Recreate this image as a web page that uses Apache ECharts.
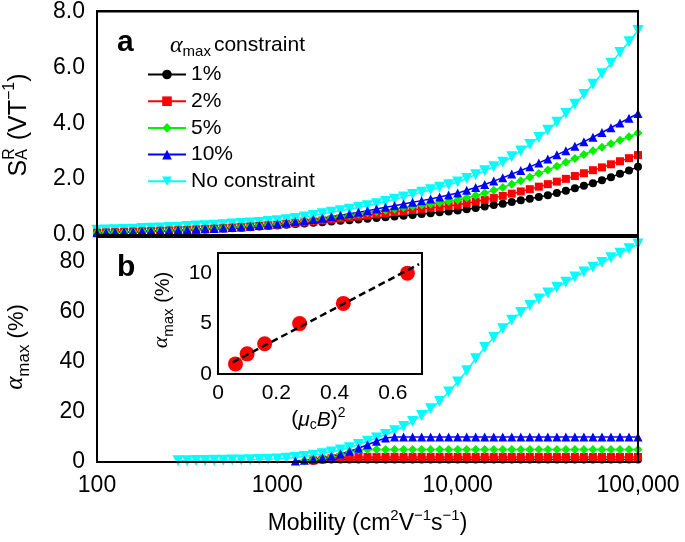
<!DOCTYPE html>
<html><head><meta charset="utf-8">
<script src="https://cdn.jsdelivr.net/npm/echarts/dist/echarts.min.js"></script>
<style>html,body{margin:0;padding:0;background:#fff}
#wrap{position:relative;width:685px;height:542px;background:#fff}
#c,#ov{position:absolute;left:0;top:0;width:685px;height:542px}
#c{z-index:1}#ov{z-index:2;pointer-events:none}
#err{position:absolute;left:2px;bottom:0;z-index:3;font:8px sans-serif;color:#aaa;max-width:680px;white-space:nowrap;overflow:hidden}</style>
</head><body><div id="wrap"><div id="c"></div><div id="ov"></div><div id="err"></div></div>
<script>
// ---------------- data ----------------
const mobility = [100,112.2,125.9,141.3,158.5,177.8,199.5,223.9,251.2,281.8,
316.2,354.8,398.1,446.7,501.2,562.3,631,707.9,794.3,891.3,
1000,1122,1259,1413,1585,1778,1995,2239,2512,2818,
3162,3548,3981,4467,5012,5623,6310,7079,7943,8913,
10000,11220,12589,14125,15849,17783,19953,22387,25119,28184,
31623,35481,39811,44668,50119,56234,63096,70795,79433,89125,
100000];

// panel a: S_A^R (V/T)
const saBlack = [0.07,0.08,0.09,0.10,0.11,0.12,0.13,0.14,0.15,0.16,
0.17,0.185,0.20,0.215,0.23,0.245,0.26,0.28,0.30,0.32,
0.34,0.365,0.39,0.41,0.435,0.46,0.485,0.51,0.53,0.555,
0.58,0.605,0.635,0.66,0.69,0.72,0.75,0.78,0.81,0.845,
0.88,0.925,0.97,1.02,1.07,1.12,1.18,1.24,1.30,1.36,
1.42,1.50,1.58,1.67,1.76,1.85,1.96,2.07,2.19,2.31,
2.44];
const saRed = [0.08,0.09,0.10,0.11,0.12,0.13,0.14,0.15,0.16,0.17,
0.18,0.195,0.21,0.225,0.24,0.26,0.28,0.30,0.32,0.34,
0.36,0.39,0.42,0.45,0.485,0.52,0.555,0.59,0.625,0.66,
0.70,0.74,0.78,0.82,0.86,0.90,0.935,0.97,1.005,1.04,
1.08,1.14,1.20,1.26,1.33,1.40,1.48,1.56,1.64,1.73,
1.82,1.91,2.01,2.11,2.21,2.32,2.42,2.53,2.64,2.75,
2.86];
const saGreen = [0.08,0.09,0.10,0.11,0.12,0.13,0.14,0.15,0.16,0.175,
0.19,0.205,0.22,0.235,0.25,0.27,0.29,0.31,0.33,0.355,
0.38,0.415,0.45,0.49,0.53,0.57,0.615,0.66,0.705,0.75,
0.80,0.845,0.89,0.935,0.98,1.03,1.07,1.11,1.155,1.20,
1.25,1.33,1.41,1.50,1.60,1.70,1.82,1.94,2.07,2.20,
2.33,2.46,2.60,2.74,2.88,3.02,3.14,3.27,3.39,3.52,
3.65];
const saBlue = [0.08,0.09,0.10,0.11,0.12,0.13,0.14,0.15,0.16,0.175,
0.19,0.205,0.22,0.235,0.25,0.27,0.29,0.31,0.34,0.365,
0.39,0.43,0.47,0.51,0.555,0.60,0.65,0.705,0.76,0.815,
0.87,0.93,0.99,1.05,1.11,1.17,1.23,1.29,1.36,1.43,
1.50,1.60,1.70,1.81,1.93,2.05,2.18,2.31,2.44,2.58,
2.72,2.87,3.02,3.18,3.34,3.50,3.67,3.84,4.01,4.18,
4.35];
const saCyan = [0.17,0.18,0.19,0.20,0.21,0.23,0.24,0.25,0.27,0.28,
0.30,0.32,0.33,0.35,0.37,0.39,0.41,0.43,0.45,0.48,
0.51,0.55,0.59,0.64,0.70,0.76,0.81,0.87,0.92,0.99,
1.05,1.12,1.20,1.28,1.36,1.45,1.53,1.62,1.71,1.80,
1.90,2.02,2.16,2.30,2.44,2.60,2.80,3.01,3.24,3.49,
3.75,4.04,4.35,4.68,5.03,5.40,5.77,6.15,6.53,6.92,
7.32];

// panel b: alpha_max (%)
const amBlack = [null,null,null,null,null,null,null,null,null,null,
null,null,null,null,null,null,null,null,null,null,
null,null,null,null,0.5,0.9,1,1,1,1,
1,1,1,1,1,1,1,1,1,1,
1,1,1,1,1,1,1,1,1,1,
1,1,1,1,1,1,1,1,1,1,
1];
const amRed = [null,null,null,null,null,null,null,null,null,null,
null,null,null,null,null,null,null,null,null,null,
null,null,null,null,0.6,1.0,1.5,2,2,2,
2,2,2,2,2,2,2,2,2,2,
2,2,2,2,2,2,2,2,2,2,
2,2,2,2,2,2,2,2,2,2,
2];
const amGreen = [null,null,null,null,null,null,null,null,null,null,
null,null,null,null,null,null,null,null,null,null,
null,null,null,0.5,0.9,1.4,2.1,3.0,4.0,4.8,
5,5,5,5,5,5,5,5,5,5,
5,5,5,5,5,5,5,5,5,5,
5,5,5,5,5,5,5,5,5,5,
5];
const amBlue = [null,null,null,null,null,null,null,null,null,null,
null,null,null,null,null,null,null,null,null,null,
null,null,0.4,0.7,1.1,1.6,2.3,3.2,4.3,5.5,
6.9,8.3,9.6,10,10,10,10,10,10,10,
10,10,10,10,10,10,10,10,10,10,
10,10,10,10,10,10,10,10,10,10,
10];
const amCyan = [null,null,null,null,null,null,null,null,null,0.5,
0.55,0.6,0.65,0.7,0.75,0.8,0.85,0.9,1.0,1.1,
1.25,1.5,1.8,2.2,2.7,3.3,4.0,4.8,5.7,7.0,
8.3,9.6,11.0,12.5,14.2,16.2,18.6,21.3,24.2,28,
32,36.5,41.3,45.8,49.8,53.3,56.7,59.8,62.6,65.2,
67.6,69.8,71.9,74.0,76.0,77.9,79.8,81.7,83.5,85.3,
87.2];

// inset
const insetX = [0.06, 0.10, 0.16, 0.28, 0.43, 0.65];
const insetY = [1, 2, 3, 5, 7, 10];
const fitX = [0.05, 0.69];
const fitY = [1.15, 10.9];

const seriesNames = ['1%', '2%', '5%', '10%', 'No constraint'];
const xTickLabels = ['100', '1000', '10,000', '100,000'];
const xMajorTicks = [100, 1000, 10000, 100000];
const xMinorTicks = [200,300,400,500,600,700,800,900,2000,3000,4000,5000,6000,7000,8000,9000,20000,30000,40000,50000,60000,70000,80000,90000];
const topYLabels = ['0.0', '2.0', '4.0', '6.0', '8.0'];
const topYMajor = [0, 2, 4, 6, 8];
const botYLabels = ['0', '20', '40', '60', '80'];
const botYMajor = [0, 20, 40, 60, 80];
const insetXLabels = ['0', '0.2', '0.4', '0.6'];
const insetYLabels = ['0', '5', '10'];

// ---------------- layout ----------------
const GRIDS = [
  {left: 97, top: 11, width: 541, height: 224},
  {left: 97, top: 237, width: 541, height: 225},
  {left: 218, top: 253, width: 204, height: 121}
];
const FONT = '"Liberation Sans", Arial, Helvetica, sans-serif';
const SERIF = '"Liberation Serif", "Times New Roman", serif';
const errs = [];
function report(tag, e) {
  errs.push(tag + ': ' + (e && e.message ? e.message : String(e)));
  document.getElementById('err').textContent = errs.join(' | ');
}
window.addEventListener('error', ev => report('win', ev.error || ev.message));

// ---------------- overlay chart (created first): inward tick marks on the same scales ----------------
function oyv(g, pos, max, interval, len, minor) {
  return {type: 'value', gridIndex: g, position: pos, min: 0, max, interval,
    axisLine: {show: true, onZero: false, lineStyle: {color: '#000', width: 2}}, splitLine: {show: false},
    axisTick: {show: true, inside: true, length: len, lineStyle: {color: '#000', width: 1.5}},
    axisLabel: {show: false},
    minorTick: {show: !!minor, splitNumber: minor || 5, length: 7, lineStyle: {color: '#000', width: 1.5}}};
}
function oxl(g, pos, custom, len) {
  return {type: 'log', logBase: 10, gridIndex: g, position: pos, min: 100, max: 100000,
    axisLine: {show: true, onZero: false, lineStyle: {color: '#000', width: 2}}, splitLine: {show: false},
    axisTick: {show: true, inside: true, length: len, lineStyle: {color: '#000', width: 1.5}, customValues: custom},
    axisLabel: {show: false}};
}
try {
  const ov = echarts.init(document.getElementById('ov'));
  ov.setOption({
    animation: false,
    grid: GRIDS.map(g => Object.assign({}, g)),
    xAxis: [
      oxl(0, 'bottom', undefined, 13), oxl(0, 'bottom', xMinorTicks, 7), oxl(0, 'top', undefined, 13), oxl(0, 'top', xMinorTicks, 7),
      oxl(1, 'bottom', undefined, 13), oxl(1, 'bottom', xMinorTicks, 7), oxl(1, 'top', undefined, 13), oxl(1, 'top', xMinorTicks, 7),
      {type: 'value', gridIndex: 2, position: 'bottom', min: 0, max: 0.7, interval: 0.2,
        axisLine: {show: true, onZero: false, lineStyle: {color: '#000', width: 2}}, splitLine: {show: false},
        axisTick: {show: true, inside: true, length: 9, lineStyle: {color: '#000', width: 1.5}}, axisLabel: {show: false}}
    ],
    yAxis: [
      oyv(0, 'left', 8, 2, 13, 4), oyv(0, 'right', 8, 2, 13, 4),
      oyv(1, 'left', 90, 20, 13), oyv(1, 'left', 90, 5, 7), oyv(1, 'right', 90, 20, 13), oyv(1, 'right', 90, 5, 7),
      {type: 'value', gridIndex: 2, position: 'left', min: 0, max: 12, interval: 5,
        axisLine: {show: true, onZero: false, lineStyle: {color: '#000', width: 2}}, splitLine: {show: false},
        axisTick: {show: true, inside: true, length: 9, lineStyle: {color: '#000', width: 1.5}}, axisLabel: {show: false}}
    ],
    series: [
      {type: 'line', xAxisIndex: 0, yAxisIndex: 0, data: [[100, 0], [100000, 0]], symbol: 'none', lineStyle: {opacity: 0}},
      {type: 'line', xAxisIndex: 4, yAxisIndex: 2, data: [[100, 0], [100000, 0]], symbol: 'none', lineStyle: {opacity: 0}},
      {type: 'line', xAxisIndex: 8, yAxisIndex: 6, data: [[0, 0], [0.7, 0]], symbol: 'none', lineStyle: {opacity: 0}}
    ]
  });
} catch (e) { report('ov', e); }

// ---------------- main chart: data, labels, legend ----------------
const styles = {
  '1%': {color: '#000000', symbol: 'circle', size: 8, rotate: 0},
  '2%': {color: '#ff0000', symbol: 'rect', size: 8, rotate: 0},
  '5%': {color: '#00f000', symbol: 'diamond', size: 9, rotate: 0},
  '10%': {color: '#0000ff', symbol: 'triangle', size: 9, rotate: 0},
  'No constraint': {color: '#00ffff', symbol: 'triangle', size: 11, rotate: 180}
};
function mk(name, vals, ax) {
  const s = styles[name];
  return {
    type: 'line', name, xAxisIndex: ax, yAxisIndex: ax,
    data: mobility.map((m, i) => [m, vals[i]]),
    symbol: s.symbol, symbolSize: s.size, symbolRotate: s.rotate,
    showSymbol: true, connectNulls: false,
    itemStyle: {color: s.color}, lineStyle: {color: s.color, width: 1.5},
    animation: false
  };
}

// text layout helper for titles with sub/superscripts
const mctx = document.createElement('canvas').getContext('2d');
function runText(pieces, cx, cy, rot, anchor) {
  let x = 0; const ch = [];
  for (const p of pieces) {
    const fam = p.f || FONT;
    const st = p.it ? 'italic' : 'normal';
    const wt = p.b ? 'bold' : 'normal';
    ch.push({type: 'text', x: x + (p.dx || 0), y: p.dy || 0,
      style: {text: p.t, fontSize: p.s, fontFamily: fam, fontStyle: st, fontWeight: wt,
        fill: '#000', align: 'left', verticalAlign: 'middle'}});
    mctx.font = st + ' ' + wt + ' ' + p.s + 'px ' + fam;
    const w = mctx.measureText(p.t).width;
    if (!p.stack) x += w + (p.gap || 0);
  }
  const off = anchor === 'left' ? 0 : -x / 2;
  ch.forEach(c => { c.x += off; });
  return {type: 'group', x: cx, y: cy, rotation: rot || 0, silent: true, children: ch};
}

const graphics = [
  runText([{t: 'a', s: 30, b: true}], 117, 43, 0, 'left'),
  runText([{t: 'b', s: 30, b: true}], 117, 268, 0, 'left'),
  runText([{t: 'α', s: 24, it: true, f: SERIF, dy: -0.5}, {t: 'max', s: 15, dy: 6, gap: 3}, {t: 'constraint', s: 21}], 170, 45.7, 0, 'left'),
  runText([{t: 'S', s: 25}, {t: 'A', s: 16, dy: 3.2, stack: true}, {t: 'R', s: 16, dy: -9.8, gap: 1},
           {t: ' (VT', s: 25}, {t: '−1', s: 16, dy: -9.8}, {t: ')', s: 25}], 19.3, 125, Math.PI / 2),
  runText([{t: 'α', s: 25, it: true, f: SERIF, dy: -1.5}, {t: 'max', s: 17, dy: 6.7}, {t: ' (%)', s: 22}], 17.4, 347, Math.PI / 2),
  runText([{t: 'α', s: 22, it: true, f: SERIF, dy: -1.5}, {t: 'max', s: 15, dy: 5.8}, {t: ' (%)', s: 20}], 163, 310, Math.PI / 2),
  runText([{t: '(', s: 21}, {t: 'μ', s: 21, it: true}, {t: 'c', s: 14, dy: 5.3}, {t: 'B', s: 21, it: true},
           {t: ')', s: 21}, {t: '2', s: 14, dy: -7}], 318.5, 419.7, 0),
  runText([{t: 'Mobility (cm', s: 23}, {t: '2', s: 15, dy: -8}, {t: 'V', s: 23}, {t: '−1', s: 15, dy: -8},
           {t: 's', s: 23}, {t: '−1', s: 15, dy: -8}, {t: ')', s: 23}], 367.5, 524, 0)
];

function noAxisDeco() {
  return {axisLine: {show: false, onZero: false}, axisTick: {show: false}, splitLine: {show: false}, minorTick: {show: false}};
}

try {
  const chart = echarts.init(document.getElementById('c'));
  chart.setOption({
    animation: false,
    grid: [
      Object.assign({show: true, borderColor: '#000', borderWidth: 2, backgroundColor: 'rgba(0,0,0,0)'}, GRIDS[0]),
      Object.assign({show: true, borderColor: '#000', borderWidth: 2, backgroundColor: 'rgba(0,0,0,0)'}, GRIDS[1]),
      Object.assign({show: true, borderColor: '#000', borderWidth: 2, backgroundColor: '#fff'}, GRIDS[2])
    ],
    xAxis: [
      Object.assign({type: 'log', logBase: 10, gridIndex: 0, min: 100, max: 100000, axisLabel: {show: false}}, noAxisDeco()),
      Object.assign({type: 'log', logBase: 10, gridIndex: 1, min: 100, max: 100000,
        axisLabel: {show: true, margin: 12, fontSize: 23, color: '#000', fontFamily: FONT,
          formatter: v => xTickLabels[xMajorTicks.indexOf(Math.round(v))] || ''}}, noAxisDeco()),
      Object.assign({type: 'value', gridIndex: 2, min: 0, max: 0.7, interval: 0.2,
        axisLabel: {margin: 9, fontSize: 21, color: '#000', fontFamily: FONT,
          formatter: v => Math.abs(v * 5 - Math.round(v * 5)) < 1e-6 ? (insetXLabels[Math.round(v * 5)] || '') : ''}}, noAxisDeco())
    ],
    yAxis: [
      Object.assign({type: 'value', gridIndex: 0, min: 0, max: 8, interval: 2,
        axisLabel: {margin: 12, fontSize: 23, color: '#000', fontFamily: FONT,
          formatter: v => topYLabels[topYMajor.indexOf(v)] || ''}}, noAxisDeco()),
      Object.assign({type: 'value', gridIndex: 1, min: 0, max: 90, interval: 20,
        axisLabel: {margin: 12, fontSize: 23, color: '#000', fontFamily: FONT,
          formatter: v => botYLabels[botYMajor.indexOf(v)] || ''}}, noAxisDeco()),
      Object.assign({type: 'value', gridIndex: 2, min: 0, max: 12, interval: 5,
        axisLabel: {margin: 6, fontSize: 21, color: '#000', fontFamily: FONT,
          formatter: v => insetYLabels[[0, 5, 10].indexOf(v)] || ''}}, noAxisDeco())
    ],
    legend: {
      show: true, data: seriesNames, left: 142, top: 59, orient: 'vertical',
      itemWidth: 38, itemHeight: 12, itemGap: 5.7, selectedMode: false,
      textStyle: {fontSize: 21, fontFamily: FONT, color: '#000'}
    },
    graphic: graphics,
    series: [
      mk('No constraint', saCyan, 0),
      mk('1%', saBlack, 0),
      mk('2%', saRed, 0),
      mk('5%', saGreen, 0),
      mk('10%', saBlue, 0),
      mk('No constraint', amCyan, 1),
      mk('1%', amBlack, 1),
      mk('2%', amRed, 1),
      mk('5%', amGreen, 1),
      mk('10%', amBlue, 1),
      {type: 'scatter', name: 'inset points', xAxisIndex: 2, yAxisIndex: 2,
        data: insetX.map((x, i) => [x, insetY[i]]), symbol: 'circle', symbolSize: 15,
        itemStyle: {color: '#ff0000', opacity: 1}, z: 5, silent: true, animation: false},
      {type: 'line', name: 'inset fit', xAxisIndex: 2, yAxisIndex: 2,
        data: fitX.map((x, i) => [x, fitY[i]]), symbol: 'none',
        lineStyle: {color: '#000', width: 2.5, type: [7, 4]}, z: 6, silent: true, animation: false}
    ]
  });
} catch (e) { report('main', e); }
</script>
</body></html>
